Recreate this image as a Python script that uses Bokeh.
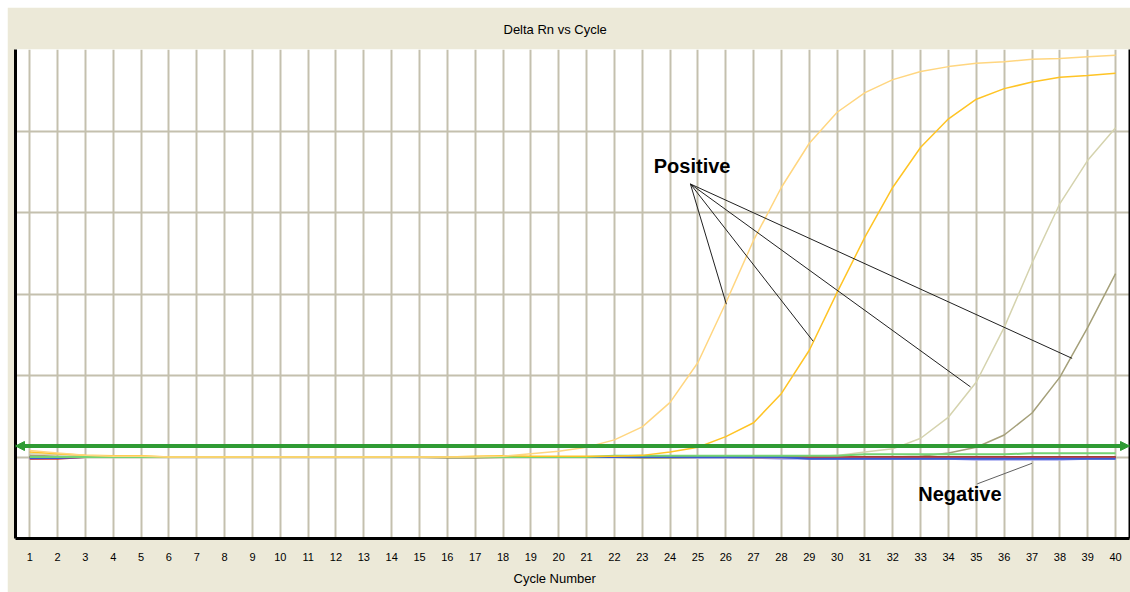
from bokeh.plotting import figure
from bokeh.models import FixedTicker, LinearAxis, Title, Arrow, NormalHead, Range1d
from bokeh.core.properties import value
from bokeh.embed import file_html
from bokeh.resources import INLINE

# ---------------- data ----------------
cycles = [1, 2, 3, 4, 5, 6, 7, 8, 9, 10, 11, 12, 13, 14, 15, 16, 17, 18, 19, 20,
          21, 22, 23, 24, 25, 26, 27, 28, 29, 30, 31, 32, 33, 34, 35, 36, 37, 38, 39, 40]

# positive samples (Delta Rn, arbitrary units: one grid step = 1)
pos_a = [0.08, 0.05, 0.02, 0.01, 0.01, 0.0, 0.0, 0.0, 0.0, 0.0,
         0.0, 0.0, 0.0, 0.0, 0.0, 0.0, 0.0, 0.01, 0.04, 0.07,
         0.12, 0.21, 0.37, 0.67, 1.16, 1.89, 2.66, 3.31, 3.85, 4.23,
         4.47, 4.63, 4.73, 4.79, 4.83, 4.85, 4.88, 4.89, 4.91, 4.93]
pos_b = [0.06, 0.04, 0.02, 0.015, 0.015, 0.0, 0.0, 0.0, 0.0, 0.0,
         0.0, 0.0, 0.0, 0.0, 0.0, 0.0, 0.01, 0.015, 0.01, 0.01,
         0.01, 0.01, 0.02, 0.06, 0.12, 0.25, 0.42, 0.78, 1.31, 2.02,
         2.70, 3.31, 3.80, 4.15, 4.39, 4.52, 4.60, 4.66, 4.68, 4.71]
pos_c = [0.04, 0.03, 0.01, 0.0, 0.0, 0.0, 0.0, 0.0, 0.0, 0.0,
         0.0, 0.0, 0.0, 0.0, 0.0, 0.0, 0.0, 0.0, 0.0, 0.0,
         0.0, 0.0, 0.0, 0.0, 0.0, 0.0, 0.0, 0.0, 0.0, 0.02,
         0.06, 0.10, 0.23, 0.49, 0.92, 1.59, 2.38, 3.11, 3.64, 4.04]
pos_d = [0.02, 0.01, 0.0, 0.0, 0.0, 0.0, 0.0, 0.0, 0.0, 0.0,
         0.0, 0.0, 0.0, 0.0, 0.0, 0.0, 0.0, 0.0, 0.0, 0.0,
         0.0, 0.0, 0.0, 0.0, 0.0, 0.0, 0.0, 0.0, 0.0, 0.0,
         0.0, 0.0, 0.01, 0.05, 0.12, 0.27, 0.54, 0.98, 1.59, 2.25]

# negative samples (flat near zero)
neg_olive = [0.0, 0.0, 0.0, 0.0, 0.0, 0.0, 0.0, 0.0, 0.0, 0.0,
             0.0, 0.0, 0.0, 0.0, 0.0, -0.006, -0.006, 0.0, 0.0, 0.0,
             0.0, 0.0, -0.006, -0.006, -0.006, -0.006, 0.0, 0.0, 0.0, 0.0,
             0.0, 0.0, 0.0, 0.0, 0.0, 0.0, 0.0, 0.0, 0.0, 0.0]
neg_lav = [-0.025, -0.01, 0.0, 0.0, 0.0, 0.0, 0.0, 0.0, 0.0, 0.0,
           0.0, 0.0, 0.0, 0.0, 0.0, 0.0, 0.0, 0.0, 0.0, 0.0,
           0.0, 0.0, 0.0, 0.0, -0.008, -0.008, -0.008, -0.02, -0.02, -0.02,
           -0.02, -0.02, -0.02, -0.02, -0.035, -0.035, -0.035, -0.035, -0.02, -0.02]
neg_darkred = [0.0, 0.0, 0.0, 0.0, 0.0, 0.0, 0.0, 0.0, 0.0, 0.0,
               0.0, 0.0, 0.0, 0.0, 0.0, 0.0, 0.0, 0.0, 0.0, 0.0,
               0.0, 0.0, 0.0, 0.0, 0.0, 0.0, -0.004, -0.004, -0.004, -0.004,
               -0.004, -0.004, -0.004, -0.004, -0.004, -0.004, -0.004, -0.004, -0.004, -0.004]
neg_red = [-0.02, -0.02, 0.0, 0.0, 0.0, 0.0, 0.0, 0.0, 0.0, 0.0,
           0.0, 0.0, 0.0, 0.0, 0.0, 0.0, 0.0, 0.0, 0.0, 0.0,
           0.0, 0.0, 0.0, 0.0, 0.0, 0.0, 0.0, 0.0, 0.0, 0.0,
           -0.005, -0.005, -0.005, -0.005, -0.005, -0.005, -0.005, -0.005, -0.005, -0.005]
neg_blue = [-0.012, -0.012, 0.0, 0.0, 0.0, 0.0, 0.0, 0.0, 0.0, 0.0,
            0.0, 0.0, 0.0, 0.0, 0.0, 0.0, 0.0, 0.0, 0.0, 0.0,
            0.0, 0.0, 0.0, 0.0, 0.0, 0.0, 0.0, 0.0, -0.022, -0.022,
            -0.022, -0.022, -0.022, -0.022, -0.022, -0.022, -0.022, -0.022, -0.022, -0.022]
neg_green = [0.0, 0.0, 0.0, 0.0, 0.0, 0.0, 0.0, 0.0, 0.0, 0.0,
             0.0, 0.0, 0.0, 0.0, 0.0, 0.0, 0.0, 0.0, 0.0, 0.0,
             0.0, 0.015, 0.015, 0.015, 0.015, 0.015, 0.015, 0.015, 0.015, 0.015,
             0.033, 0.033, 0.033, 0.033, 0.033, 0.033, 0.045, 0.045, 0.045, 0.045]

threshold = 0.135
y_grid_ticks = [-1, 0, 1, 2, 3, 4, 5]

title_text = "Delta Rn vs Cycle"
x_title_text = "Cycle Number"

# annotation anchors (cycle, Delta Rn)
pos_label = ["Positive"]
pos_label_x = [24.79]
pos_label_y = [3.57]
pos_src_x = [24.73, 24.73, 24.73, 24.73]
pos_src_y = [3.35, 3.35, 3.35, 3.35]
pos_dst_x = [26.02, 29.14, 34.79, 38.44]
pos_dst_y = [1.875, 1.42, 0.86, 1.21]

neg_label = ["Negative"]
neg_label_x = [34.41]
neg_label_y = [-0.45]
neg_src_x = [35.03]
neg_src_y = [-0.33]
neg_dst_x = [37.0]
neg_dst_y = [-0.077]

x_start, x_end = 0.49, 40.5
y_start, y_end = -1.0, 5.0

# ---------------- figure ----------------
BEIGE = "#ECE9D8"
GRID = "#C4C0AE"

p = figure(width=1123, height=585, margin=(7, 0, 0, 7),
           x_range=Range1d(x_start, x_end), y_range=Range1d(y_start, y_end),
           output_backend="svg", toolbar_location=None,
           min_border_left=8, min_border_right=1, min_border_top=42, min_border_bottom=54,
           background_fill_color="#FFFFFF", border_fill_color=BEIGE,
           outline_line_color=None)

p.title.text = title_text
p.title.align = "left"
p.title.offset = 488
p.title.standoff = 25
p.title.text_font = "Liberation Sans"
p.title.text_font_size = "13px"
p.title.text_font_style = "normal"
p.title.text_color = "#000000"

# x axis
xa = p.xaxis[0]
xa.ticker = FixedTicker(ticks=cycles)
xa.major_tick_out = 0
xa.major_tick_in = 0
xa.minor_tick_out = 0
xa.minor_tick_in = 0
xa.axis_line_width = 3
xa.axis_line_color = "#000000"
xa.major_label_text_font = "Liberation Sans"
xa.major_label_text_font_size = "11px"
xa.major_label_text_color = "#000000"
xa.major_label_standoff = 14

# left y axis: only a heavy line
ya = p.yaxis[0]
ya.ticker = FixedTicker(ticks=[])
ya.major_tick_out = 0
ya.major_tick_in = 0
ya.minor_tick_out = 0
ya.minor_tick_in = 0
ya.major_label_text_font_size = "0px"
ya.major_label_standoff = 0
ya.axis_line_width = 3
ya.axis_line_color = "#000000"

ra = LinearAxis(ticker=FixedTicker(ticks=[]), axis_line_width=2, axis_line_color="#000000",
                major_tick_out=0, major_tick_in=0, minor_tick_out=0, minor_tick_in=0,
                major_label_text_font_size="0px", major_label_standoff=0)
p.add_layout(ra, "right")

p.xgrid.grid_line_color = GRID
p.xgrid.grid_line_width = 2
p.ygrid.ticker = FixedTicker(ticks=y_grid_ticks)
p.ygrid.grid_line_color = GRID
p.ygrid.grid_line_width = 2

p.add_layout(Title(text=x_title_text, align="left", offset=498, standoff=10,
                   text_font="Liberation Sans", text_font_size="13px",
                   text_font_style="normal", text_color="#000000"), "below")

# curves
p.line(cycles, pos_d, line_color="#A5A07A", line_width=1.5)
p.line(cycles, pos_c, line_color="#D5D3AE", line_width=1.5)
p.line(cycles, neg_olive, line_color="#7D7A3A", line_width=2)
p.line(cycles, neg_lav, line_color="#A8AAF0", line_width=2)
p.line(cycles, neg_darkred, line_color="#7A2626", line_width=2)
p.line(cycles, neg_red, line_color="#D23C3C", line_width=2)
p.line(cycles, neg_blue, line_color="#3A5AD0", line_width=2)
p.line(cycles, neg_green, line_color="#74D474", line_width=2)
p.line(cycles, pos_b, line_color="#FFC425", line_width=1.5)
p.line(cycles, pos_a, line_color="#FFD680", line_width=1.5)

# threshold with arrow heads at both ends
GREEN = "#2F9B34"
p.add_layout(Arrow(x_start=x_start, y_start=threshold, x_end=x_end, y_end=threshold,
                   line_color=GREEN, line_width=4,
                   start=NormalHead(size=9, fill_color=GREEN, line_color=GREEN),
                   end=NormalHead(size=9, fill_color=GREEN, line_color=GREEN)))

# annotations
p.segment(x0=pos_src_x, y0=pos_src_y, x1=pos_dst_x, y1=pos_dst_y, line_color="#202020", line_width=1)
p.segment(x0=neg_src_x, y0=neg_src_y, x1=neg_dst_x, y1=neg_dst_y, line_color="#606060", line_width=1)
p.text(x=pos_label_x, y=pos_label_y, text=pos_label, text_font=value("Liberation Sans"),
       text_font_style="bold", text_font_size="20px", text_align="center",
       text_baseline="middle", text_color="#000000")
p.text(x=neg_label_x, y=neg_label_y, text=neg_label, text_font=value("Liberation Sans"),
       text_font_style="bold", text_font_size="20px", text_align="center",
       text_baseline="middle", text_color="#000000")

open("out.html", "w").write(file_html(p, INLINE))
